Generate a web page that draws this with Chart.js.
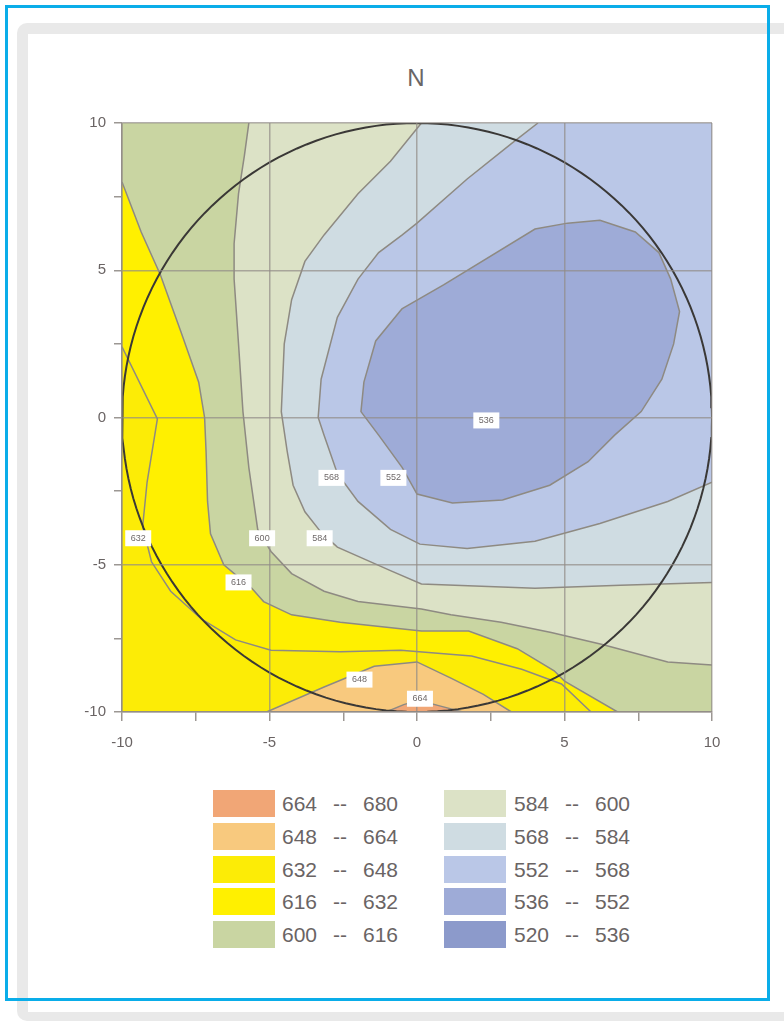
<!DOCTYPE html>
<html><head><meta charset="utf-8">
<script src="https://cdn.jsdelivr.net/npm/chart.js@4/dist/chart.umd.min.js"></script>
<style>
html,body{margin:0;padding:0;background:#fff;width:784px;height:1026px;overflow:hidden;font-family:"Liberation Sans",Arial,sans-serif;}
#shadow{position:absolute;left:17px;top:23px;width:800px;height:998px;background:#e9e9e9;border-radius:10px;}
#panel{position:absolute;left:28px;top:34px;width:800px;height:978px;background:#fff;}
#frame{position:absolute;left:5px;top:5px;width:759px;height:990px;border:3px solid #0AADE9;pointer-events:none;}
#title{position:absolute;left:0;top:64px;width:832px;text-align:center;font-size:24px;color:#6a6666;}
#wrap{position:absolute;left:0;top:0;width:784px;height:770px;}
.sw{position:absolute;width:62px;height:27px;}
.lt{position:absolute;font-size:21px;color:#6a6464;line-height:27px;white-space:pre;}
</style></head>
<body>
<div id="shadow"></div><div id="panel"></div>
<div id="title">N</div>
<div id="wrap"><canvas id="c" width="784" height="770"></canvas></div>
<div id="legend"></div>
<div id="frame"></div>
<script>
// ---- axis ----
const axisMin = -10, axisMax = 10;
const tickLabels = [-10, -5, 0, 5, 10];

// ---- legend bands ----
const bandLow  = [664, 648, 632, 616, 600, 584, 568, 552, 536, 520];
const bandHigh = [680, 664, 648, 632, 616, 600, 584, 568, 552, 536];
const bandColors = ['#F1A676', '#F8C97E', '#FCEC06', '#FFF000', '#C9D5A2',
                    '#DCE2C6', '#CFDCE2', '#BAC7E7', '#9EABD7', '#8C9ACB'];

// ---- contour lines (x, y) ----
const line552 = [[-0.5,3.7],[0.9,4.5],[4.0,6.4],[5.1,6.6],[6.2,6.7],[7.4,6.3],[8.2,5.6],[8.6,4.7],[8.9,3.6],[8.7,2.5],[8.3,1.3],[7.6,0.2],[6.7,-0.6],[5.8,-1.5],[4.5,-2.3],[2.9,-2.8],[1.2,-2.9],[0.0,-2.6],[-0.5,-1.7],[-1.3,-0.6],[-1.9,0.2],[-1.8,1.2],[-1.4,2.6],[-0.5,3.7]];
const line568 = [[4.1,10],[3.2,9.3],[1.7,8.1],[0.0,6.6],[-0.5,6.2],[-1.3,5.6],[-2.0,4.7],[-2.7,3.4],[-3.25,1.3],[-3.35,0.0],[-3.15,-0.6],[-2.7,-1.9],[-2.0,-2.85],[-0.9,-3.8],[0.1,-4.3],[1.7,-4.45],[4.0,-4.2],[6.2,-3.6],[8.5,-2.85],[10,-2.2]];
const line584 = [[0.15,10],[-0.9,8.7],[-2.0,7.6],[-3.15,6.2],[-3.8,5.3],[-4.25,4.0],[-4.5,2.5],[-4.6,0.2],[-4.4,-1.15],[-4.2,-2.3],[-3.8,-3.2],[-3.25,-3.9],[-2.7,-4.4],[-1.8,-4.8],[-0.9,-5.2],[0.15,-5.65],[4.0,-5.8],[6.9,-5.7],[10,-5.6]];
const line600 = [[-5.7,10],[-5.85,8.9],[-6.05,7.6],[-6.2,5.9],[-6.2,4.7],[-6.05,2.5],[-5.9,0.2],[-5.7,-1.7],[-5.4,-3.8],[-4.95,-4.55],[-4.25,-5.3],[-3.15,-5.9],[-2.0,-6.25],[0.15,-6.5],[1.15,-6.7],[2.85,-6.95],[4.55,-7.3],[6.25,-7.7],[8.5,-8.3],[10,-8.4]];
const line616 = [[-10,8.0],[-9.35,6.3],[-8.7,4.85],[-8.0,2.9],[-7.4,1.2],[-7.2,0.0],[-7.15,-1.15],[-7.1,-2.85],[-7.0,-3.95],[-6.55,-5.0],[-5.6,-5.8],[-5.2,-6.25],[-4.25,-6.7],[-2.6,-6.95],[0.15,-7.25],[1.75,-7.25],[3.4,-7.85],[4.65,-8.6],[5.0,-8.95],[6.8,-10]];
const line632 = [[-10,2.4],[-8.8,-0.05],[-9.15,-2.2],[-9.3,-3.7],[-9.0,-4.9],[-8.35,-5.9],[-7.3,-6.85],[-6.15,-7.55],[-4.95,-7.9],[-2.6,-7.95],[-0.55,-7.9],[1.85,-8.1],[3.55,-8.55],[4.9,-9.05],[5.9,-10]];
const line648 = [[-5.1,-10],[-3.15,-9.15],[-1.45,-8.45],[0.0,-8.3],[1.15,-8.85],[2.25,-9.4],[3.2,-10]];
const line664 = [[-1.05,-10],[-0.45,-9.75],[0.05,-9.6],[0.8,-9.8],[1.55,-10]];
const circleRadius = 10;

// ---- contour labels ----
const contourLabelText = ['536','552','568','584','600','616','632','648','664'];
const contourLabelX    = [2.35, -0.8, -2.9, -3.3, -5.25, -6.05, -9.45, -1.95, 0.1];
const contourLabelY    = [-0.1, -2.05, -2.05, -4.1, -4.1, -5.6, -4.1, -8.9, -9.55];

// ---- HTML legend ----
(function(){
  const lg = document.getElementById('legend');
  const rowTop = [790, 823, 856, 888, 921];
  for (let i = 0; i < bandLow.length; i++) {
    const col = i < 5 ? 0 : 1, r = i % 5;
    const sx = col ? 444 : 213;
    const tx = col ? 514 : 282;
    const y = rowTop[r];
    const sw = document.createElement('div');
    sw.className = 'sw'; sw.style.left = sx + 'px'; sw.style.top = y + 'px';
    sw.style.background = bandColors[i];
    lg.appendChild(sw);
    const a = document.createElement('div'); a.className = 'lt';
    a.style.left = tx + 'px'; a.style.top = y + 'px'; a.textContent = String(bandLow[i]);
    const d = document.createElement('div'); d.className = 'lt';
    d.style.left = (tx + 51) + 'px'; d.style.top = y + 'px'; d.textContent = '--';
    const b = document.createElement('div'); b.className = 'lt';
    b.style.left = (tx + 81) + 'px'; b.style.top = y + 'px'; b.textContent = String(bandHigh[i]);
    lg.appendChild(a); lg.appendChild(d); lg.appendChild(b);
  }
})();

// ---- build chart data ----
const pts = arr => arr.map(p => ({x: p[0], y: p[1]}));
const square = [[axisMin,axisMin],[axisMax,axisMin],[axisMax,axisMax],[axisMin,axisMax]];
const poly616 = [[axisMin,axisMax],[axisMax,axisMax],[axisMax,axisMin]].concat(line616.slice().reverse());
const poly600 = line600.concat([[axisMax,axisMax]]);
const poly584 = line584.concat([[axisMax,axisMax]]);
const poly568 = line568.concat([[axisMax,axisMax]]);
const poly632 = line632.concat([[axisMin,axisMin]]);

function shape(arr, color, order) {
  return {data: pts(arr), showLine: true, fill: 'shape', backgroundColor: color,
          borderColor: color, borderWidth: 0, pointRadius: 0, order: order};
}
function cline(arr, order) {
  return {data: pts(arr), showLine: true, fill: false, borderColor: '#8e8a82',
          borderWidth: 1.5, pointRadius: 0, order: order};
}
const circlePts = [];
for (let k = 0; k <= 180; k++) {
  const t = k / 180 * 2 * Math.PI;
  circlePts.push([circleRadius * Math.cos(t), circleRadius * Math.sin(t)]);
}

const datasets = [
  shape(square, bandColors[3], 100),
  shape(poly632, bandColors[2], 99),
  shape(line648, bandColors[1], 98),
  shape(line664, bandColors[0], 97),
  shape(poly616, bandColors[4], 96),
  shape(poly600, bandColors[5], 95),
  shape(poly584, bandColors[6], 94),
  shape(poly568, bandColors[7], 93),
  shape(line552, bandColors[8], 92),
  cline(line632, 20), cline(line648, 19), cline(line664, 18), cline(line616, 17),
  cline(line600, 16), cline(line584, 15), cline(line568, 14), cline(line552, 13),
  {data: pts(circlePts), showLine: true, fill: false, borderColor: '#3a3836',
   borderWidth: 2, pointRadius: 0, order: 1}
];

const labelPlugin = {
  id: 'contourLabels',
  afterDraw(chart) {
    const ctx = chart.ctx, xs = chart.scales.x, ys = chart.scales.y;
    ctx.save();
    ctx.font = '9px "Liberation Sans", Arial, sans-serif';
    ctx.textAlign = 'center'; ctx.textBaseline = 'middle';
    for (let i = 0; i < contourLabelText.length; i++) {
      const px = xs.getPixelForValue(contourLabelX[i]);
      const py = ys.getPixelForValue(contourLabelY[i]);
      ctx.fillStyle = '#ffffff';
      ctx.fillRect(px - 13, py - 8, 26, 16);
      ctx.fillStyle = '#6e6868';
      ctx.fillText(contourLabelText[i], px, py);
    }
    ctx.restore();
  }
};

const gridCol = ctx => {
  const v = ctx.tick ? ctx.tick.value : 0;
  return (Math.abs(v % 5) < 1e-9) ? 'rgba(145,140,135,0.7)' : 'rgba(0,0,0,0)';
};
const tickFmt = v => (Math.abs(v % 5) < 1e-9 && tickLabels.includes(v)) ? String(v) : '';

new Chart(document.getElementById('c'), {
  type: 'scatter',
  data: {datasets: datasets},
  plugins: [labelPlugin],
  options: {
    responsive: false, animation: false,
    layout: {padding: {left: 22, right: 72, top: 123, bottom: 10}},
    plugins: {legend: {display: false}, tooltip: {enabled: false}, title: {display: false}},
    scales: {
      x: {
        type: 'linear', min: axisMin, max: axisMax,
        afterFit: s => { s.height = 48; },
        grid: {z: 1, color: gridCol, lineWidth: 1.5, tickColor: 'rgba(145,140,135,0.9)', tickLength: 9},
        border: {display: true, z: 1, color: 'rgba(145,140,135,0.9)', width: 1.5},
        ticks: {z: 1, stepSize: 2.5, callback: tickFmt, autoSkip: false, maxRotation: 0, padding: 13,
                color: '#6a6464', font: {size: 15, family: '"Liberation Sans", Arial, sans-serif'}}
      },
      y: {
        type: 'linear', min: axisMin, max: axisMax,
        afterFit: s => { s.width = 100; },
        grid: {z: 1, color: gridCol, lineWidth: 1.5, tickColor: 'rgba(145,140,135,0.9)', tickLength: 8},
        border: {display: true, z: 1, color: 'rgba(145,140,135,0.9)', width: 1.5},
        ticks: {z: 1, stepSize: 2.5, callback: tickFmt, autoSkip: false, padding: 8,
                color: '#6a6464', font: {size: 15, family: '"Liberation Sans", Arial, sans-serif'}}
      }
    }
  }
});
</script>
</body></html>
